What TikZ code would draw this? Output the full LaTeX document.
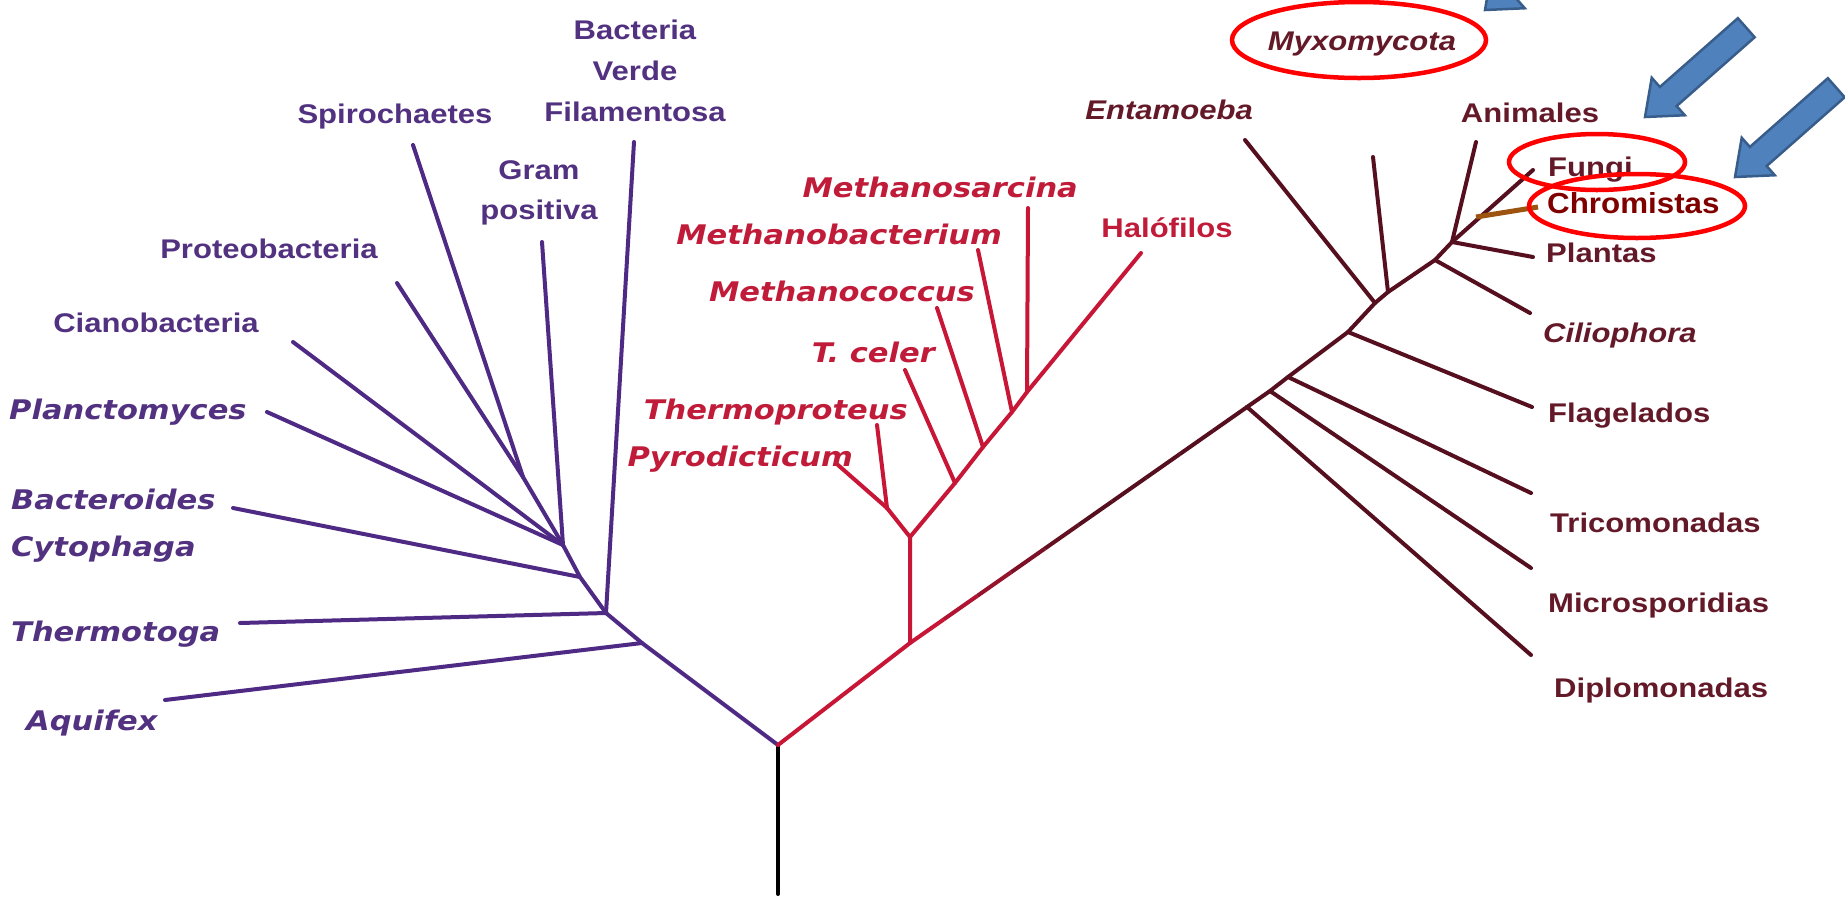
\documentclass[tikz,border=0pt]{standalone}
\usepackage{fontspec}
\setmainfont{Liberation Sans}
\newfontfamily\arb[FakeStretch=1.15]{Liberation Sans}
\newfontfamily\arbc[FakeStretch=1.08]{Liberation Sans}
\newfontfamily\dvs[FakeStretch=1.13]{DejaVu Sans}
\usetikzlibrary{calc}
\definecolor{purp}{RGB}{78,42,132}
\definecolor{purptxt}{RGB}{82,50,128}
\definecolor{arch}{RGB}{200,22,55}
\definecolor{archtxt}{RGB}{192,28,58}
\definecolor{euk}{RGB}{85,15,30}
\definecolor{euktxt}{RGB}{100,25,40}
\definecolor{chrom}{RGB}{128,0,0}
\definecolor{brownln}{RGB}{156,84,16}
\definecolor{ellred}{RGB}{255,0,0}
\definecolor{arrfill}{RGB}{79,129,189}
\definecolor{arrdraw}{RGB}{56,93,138}
\begin{document}
\begin{tikzpicture}[x=1pt,y=-1pt,
  br/.style={line width=4pt, line cap=round, line join=round},
  pl/.style={br, draw=purp},
  rl/.style={br, draw=arch},
  el/.style={br, draw=euk},
  lbl/.style={inner sep=0pt, yshift=-7pt, font=\arb\bfseries\fontsize{27}{31}\selectfont},
  ilbl/.style={inner sep=0pt, yshift=-7pt, font=\dvs\bfseries\itshape\fontsize{27}{31}\selectfont},
  albl/.style={inner sep=0pt, yshift=-7pt, font=\arb\bfseries\itshape\fontsize{27}{31}\selectfont},
  ell/.style={draw=ellred, line width=4.5pt},
  barrow/.style={fill=arrfill, draw=arrdraw, line width=2.5pt, line join=miter}
]
\useasboundingbox (0,0) rectangle (1845,898);
\clip (0,0) rectangle (1845,898);
\fill[white] (0,0) rectangle (1845,898);

% ---------- coordinates: Bacteria ----------
\coordinate (R0) at (778,894);
\coordinate (R) at (778,745);
\coordinate (A) at (642,643);
\coordinate (T) at (606,613);
\coordinate (B) at (580,577);
\coordinate (C) at (563,545);
\coordinate (P) at (523,477);
\coordinate (aq) at (165,700);
\coordinate (th) at (240,623);
\coordinate (bv) at (634,142);
\coordinate (bc) at (233,508);
\coordinate (pm) at (267,412);
\coordinate (ci) at (293,342);
\coordinate (pr) at (397,283);
\coordinate (sp) at (413,145);
\coordinate (gp) at (542,242);
% ---------- Archaea ----------
\coordinate (RJ) at (910,643);
\coordinate (N) at (910,537);
\coordinate (PT) at (887,508);
\coordinate (py) at (838,465);
\coordinate (tp) at (877,425);
\coordinate (Tc) at (955,483);
\coordinate (tc) at (905,370);
\coordinate (Mc) at (983,447);
\coordinate (mc) at (937,308);
\coordinate (Mb) at (1012,412);
\coordinate (mb) at (978,250);
\coordinate (Ms) at (1027,392);
\coordinate (ms) at (1028,208);
\coordinate (ha) at (1141,253);
% ---------- Eukarya ----------
\coordinate (D) at (1247,407);
\coordinate (Mi) at (1270,391);
\coordinate (Tr) at (1288,377);
\coordinate (F) at (1348,332);
\coordinate (E) at (1375,303);
\coordinate (X) at (1388,292);
\coordinate (Ci) at (1435,260);
\coordinate (K) at (1452,242);
\coordinate (di) at (1531,655);
\coordinate (mi) at (1531,568);
\coordinate (tr) at (1531,493);
\coordinate (fl) at (1532,407);
\coordinate (en) at (1245,140);
\coordinate (xx) at (1373,157);
\coordinate (cil) at (1530,313);
\coordinate (plt) at (1533,257);
\coordinate (an) at (1476,142);
\coordinate (fu) at (1533,170);
\coordinate (chA) at (1476,217);
\coordinate (chB) at (1538,207);

% ---------- root ----------
\draw[br, draw=black] (R0) -- (R);

% ---------- Bacteria branches ----------
\draw[pl] (R) -- (A) -- (T) -- (B) -- (C);
\draw[pl] (aq) -- (A);
\draw[pl] (th) -- (T);
\draw[pl] (bv) -- (T);
\draw[pl] (bc) -- (B);
\draw[pl] (pm) -- (C);
\draw[pl] (ci) -- (C);
\draw[pl] (pr) -- (P);
\draw[pl] (sp) -- (P);
\draw[pl] (P) -- (C);
\draw[pl] (gp) -- (C);

% ---------- Archaea branches ----------
\draw[rl] (R) -- (RJ) -- (N);
\draw[rl] (N) -- (PT);
\draw[rl] (py) -- (PT);
\draw[rl] (tp) -- (PT);
\draw[rl] (N) -- (Tc) -- (Mc) -- (Mb) -- (Ms) -- (ha);
\draw[rl] (tc) -- (Tc);
\draw[rl] (mc) -- (Mc);
\draw[rl] (mb) -- (Mb);
\draw[rl] (ms) -- (Ms);

% ---------- Eukarya branches ----------
\foreach \i in {0,...,9}{
  \pgfmathtruncatemacro\pc{max(0,100-\i*22)}
  \pgfmathsetmacro\nx{(\i+1)/10}
  \draw[br, line cap=butt, draw=arch!\pc!euk] ($(RJ)!\i/10!(D)$) -- ($(RJ)!\nx!(D)$);
}
\draw[el] (D) -- (Mi) -- (Tr) -- (F) -- (E) -- (X) -- (Ci) -- (K);
\draw[el] (D) -- (di);
\draw[el] (Mi) -- (mi);
\draw[el] (Tr) -- (tr);
\draw[el] (F) -- (fl);
\draw[el] (en) -- (E);
\draw[el] (xx) -- (X);
\draw[el] (Ci) -- (cil);
\draw[el] (K) -- (plt);
\draw[el] (an) -- (K);
\draw[el] (K) -- (fu);
\draw[line width=5pt, draw=brownln] (chA) -- (chB);

% ---------- Bacteria labels ----------
\begin{scope}[every node/.style={lbl, text=purptxt}]
\node[anchor=mid] (lbv1) at (635,30) {Bacteria};
\node[anchor=mid] (lbv2) at (635,71) {Verde};
\node[anchor=mid] (lbv3) at (635,112) {Filamentosa};
\node[anchor=mid] (lsp) at (395,114) {Spirochaetes};
\node[anchor=mid] (lgp1) at (539,170) {Gram};
\node[anchor=mid] (lgp2) at (539,210) {positiva};
\node[anchor=mid] (lpr) at (269,249) {Proteobacteria};
\node[anchor=mid] (lci) at (156,323) {Cianobacteria};
\end{scope}
\begin{scope}[every node/.style={ilbl, text=purptxt, anchor=mid west}]
\node (lpm) at (9,410) {Planctomyces};
\node (lbc) at (11,500) {Bacteroides};
\node (lcy) at (11,547) {Cytophaga};
\node (lth) at (11,632) {Thermotoga};
\node (laq) at (26,721) {Aquifex};
\end{scope}

% ---------- Archaea labels ----------
\begin{scope}[every node/.style={ilbl, text=archtxt, anchor=mid east}]
\node (lms) at (1078,188) {Methanosarcina};
\node (lmb) at (1002,235) {Methanobacterium};
\node (lmc) at (975,292) {Methanococcus};
\node (ltc) at (935,353) {T. celer};
\node (ltp) at (908,410) {Thermoproteus};
\node (lpy) at (853,457) {Pyrodicticum};
\end{scope}
\node[lbl, text=archtxt, anchor=mid] (lha) at (1167,228) {Halófilos};

% ---------- Eukarya labels ----------
\node[albl, text=euktxt, anchor=mid] (lmx) at (1362,41) {Myxomycota};
\node[albl, text=euktxt, anchor=mid east] (len) at (1253,110) {Entamoeba};
\node[lbl, text=euktxt, anchor=mid] (lan) at (1530,113) {Animales};
\node[lbl, text=euktxt, anchor=mid west] (lfu) at (1548,167) {Fungi};
\node[inner sep=0pt, yshift=-7pt, font=\arbc\bfseries\fontsize{29}{32}\selectfont, text=chrom, anchor=mid west] (lch) at (1547,204) {Chromistas};
\node[lbl, text=euktxt, anchor=mid west] (lpl) at (1546,253) {Plantas};
\node[albl, text=euktxt, anchor=mid west] (lcil) at (1543,333) {Ciliophora};
\node[lbl, text=euktxt, anchor=mid west] (lfl) at (1548,413) {Flagelados};
\node[lbl, text=euktxt, anchor=mid west] (ltr) at (1550,523) {Tricomonadas};
\node[lbl, text=euktxt, anchor=mid west] (lmi) at (1548,603) {Microsporidias};
\node[lbl, text=euktxt, anchor=mid west] (ldi) at (1554,688) {Diplomonadas};

% ---------- highlight ellipses ----------
\draw[ell] (1359,40) ellipse [x radius=127, y radius=38];
\draw[ell] (1597,162) ellipse [x radius=88, y radius=28];
\draw[ell] (1637,206) ellipse [x radius=108, y radius=32];

% ---------- blue arrows ----------
\foreach \tx/\ty in {1485/10, 1645/117, 1735/177}{
  \begin{scope}[shift={(\tx,\ty)}, rotate=41.4]
    \draw[barrow] (0,0) -- (31,25) -- (31,12.7) -- (135,12.7) -- (135,-12.7) -- (31,-12.7) -- (31,-25) -- cycle;
  \end{scope}
}
\end{tikzpicture}
\end{document}
